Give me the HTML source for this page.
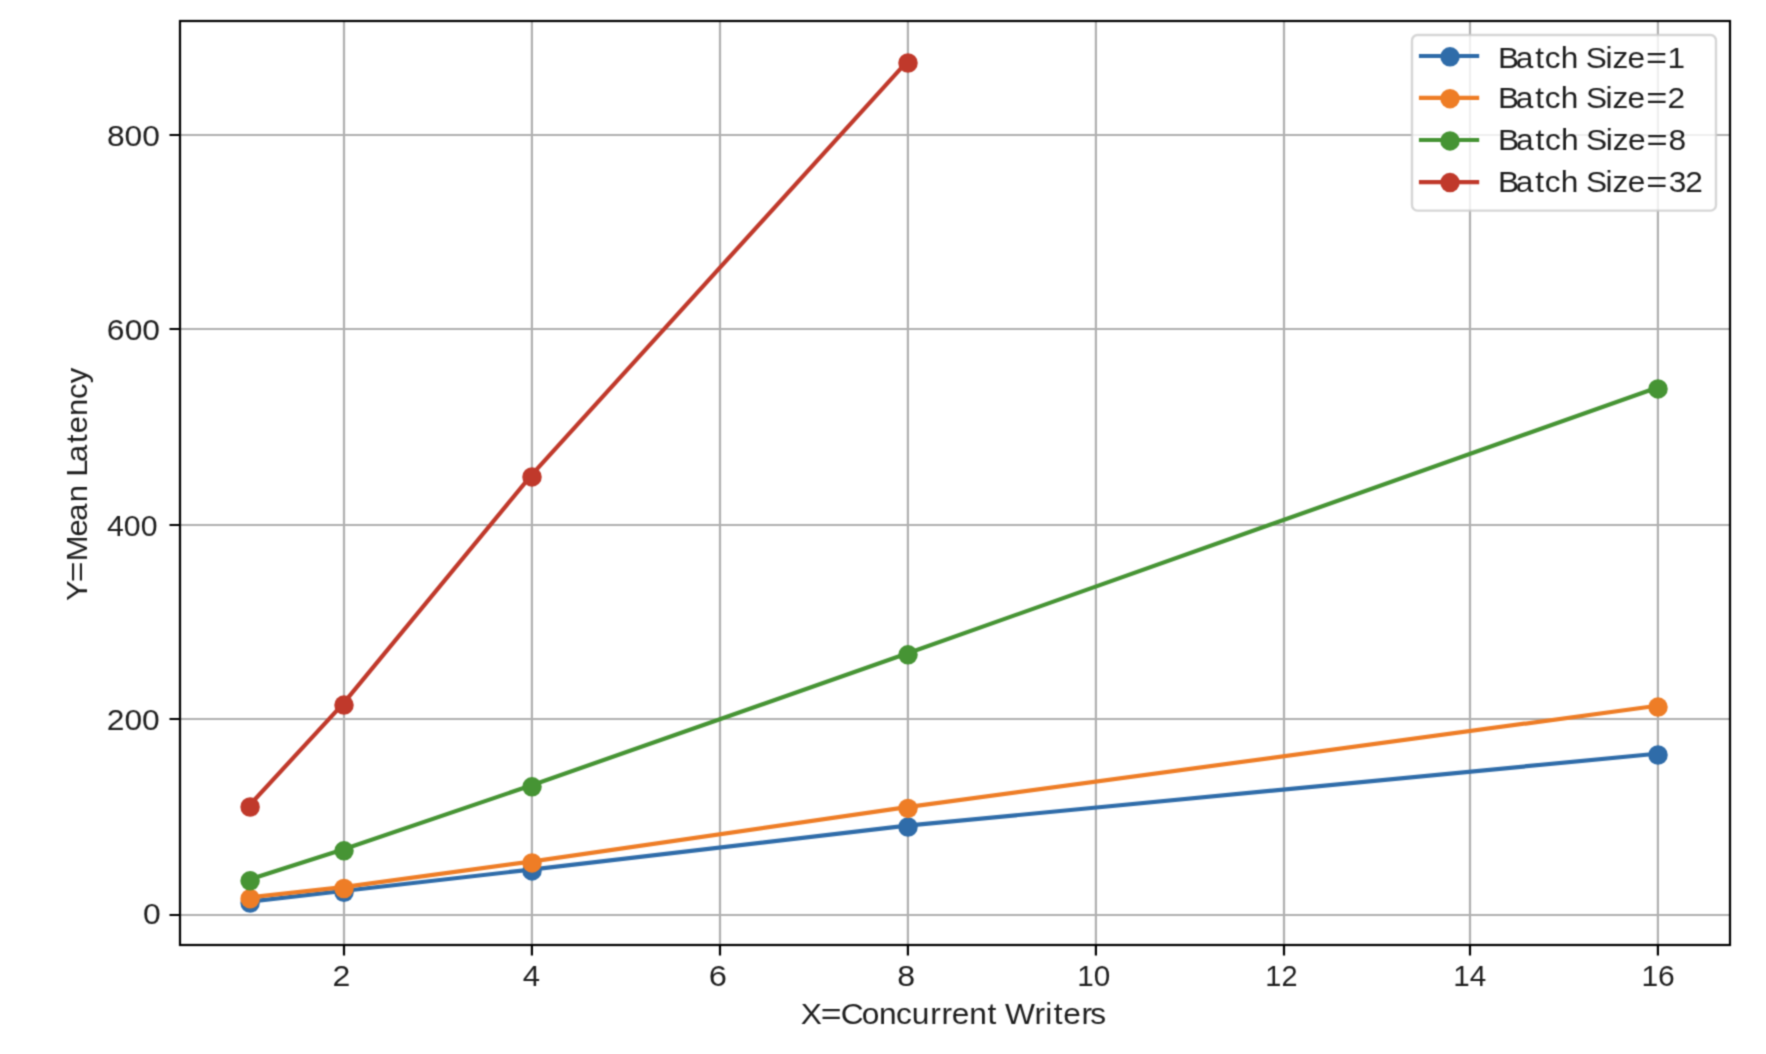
<!DOCTYPE html>
<html><head><meta charset="utf-8"><title>Mean Latency vs Concurrent Writers</title>
<style>html,body{margin:0;padding:0;background:#fff;overflow:hidden}svg{display:block}text{font-family:"Liberation Sans",sans-serif;font-size:29.4px;fill:#1e1e1e}</style></head><body>
<svg width="1766" height="1054" viewBox="0 0 1766 1054">
<defs><filter id="soft" x="0" y="0" width="1766" height="1054" filterUnits="userSpaceOnUse" color-interpolation-filters="sRGB"><feConvolveMatrix order="3" kernelMatrix="0.04000 0.12000 0.04000 0.12000 0.36000 0.12000 0.04000 0.12000 0.04000" divisor="1" edgeMode="duplicate" preserveAlpha="true"/></filter></defs>
<g filter="url(#soft)">
<rect width="1766" height="1054" fill="#fff"/>
<path d="M344 21 V945 M531.9 21 V945 M720 21 V945 M907.9 21 V945 M1095.9 21 V945 M1284 21 V945 M1470 21 V945 M1657.9 21 V945 M180 915 H1730 M180 719 H1730 M180 525 H1730 M180 329 H1730 M180 135 H1730" stroke="#b0b0b0" stroke-width="2.2" fill="none"/>
<g fill="#2F6CA9" stroke="none"><path d="M249.1 901.7 L343 891 L531 869.6 L907 825.7 L1657 753.7" fill="none" stroke="#2F6CA9" stroke-width="4.2" stroke-linejoin="round" stroke-linecap="square"/>
<circle cx="250.1" cy="903" r="9.75"/><circle cx="344" cy="892.3" r="9.75"/><circle cx="532" cy="870.9" r="9.75"/><circle cx="908" cy="827" r="9.75"/><circle cx="1658" cy="755" r="9.75"/></g>
<g fill="#EE7D26" stroke="none"><path d="M249.1 897.4 L343 887.2 L531 861.6 L907 807.1 L1657 705.8" fill="none" stroke="#EE7D26" stroke-width="4.2" stroke-linejoin="round" stroke-linecap="square"/>
<circle cx="250.1" cy="898.7" r="9.75"/><circle cx="344" cy="888.5" r="9.75"/><circle cx="532" cy="862.9" r="9.75"/><circle cx="908" cy="808.4" r="9.75"/><circle cx="1658" cy="707.1" r="9.75"/></g>
<g fill="#469434" stroke="none"><path d="M249.1 879.5 L343 849.5 L531 785.5 L907 653.5 L1657 387.6" fill="none" stroke="#469434" stroke-width="4.2" stroke-linejoin="round" stroke-linecap="square"/>
<circle cx="250.1" cy="880.8" r="9.75"/><circle cx="344" cy="850.8" r="9.75"/><circle cx="532" cy="786.8" r="9.75"/><circle cx="908" cy="654.8" r="9.75"/><circle cx="1658" cy="388.9" r="9.75"/></g>
<g fill="#C0392B" stroke="none"><path d="M249.1 805.7 L343 703.8 L531 475.6 L907 61.7" fill="none" stroke="#C0392B" stroke-width="4.2" stroke-linejoin="round" stroke-linecap="square"/>
<circle cx="250.1" cy="807" r="9.75"/><circle cx="344" cy="705.1" r="9.75"/><circle cx="532" cy="476.9" r="9.75"/><circle cx="908" cy="63" r="9.75"/></g>
<path d="M344 945 v10.5 M531.9 945 v10.5 M720 945 v10.5 M907.9 945 v10.5 M1095.9 945 v10.5 M1284 945 v10.5 M1470 945 v10.5 M1657.9 945 v10.5 M180 915 h-10.5 M180 719 h-10.5 M180 525 h-10.5 M180 329 h-10.5 M180 135 h-10.5" stroke="#000" stroke-width="2.2" fill="none"/>
<rect x="180" y="21" width="1550" height="924" fill="none" stroke="#000" stroke-width="2.2"/>
<text transform="matrix(1.0809 0 0 1 0 145.92)" x="98.91 115.3 131.62">800</text>
<text transform="matrix(1.0816 0 0 1 0 340.02)" x="98.82 115.29 131.52">600</text>
<text transform="matrix(1.029 0 0 1 0 535.92)" x="103.99 120.33 136.69">400</text>
<text transform="matrix(1.0813 0 0 1 0 730.02)" x="98.68 115.1 131.38">200</text>
<text transform="matrix(1.0851 0 0 1 0 924.02)" x="131.74">0</text>
<text transform="matrix(1.0901 0 0 1 0 986.11)" x="305.11">2</text>
<text transform="matrix(1.0597 0 0 1 0 985.96)" x="493.41">4</text>
<text transform="matrix(1.1131 0 0 1 0 985.82)" x="636.82">6</text>
<text transform="matrix(1.0946 0 0 1 0 985.92)" x="819.61">8</text>
<text transform="matrix(1.0098 0 0 1 0 986.07)" x="1066.83 1083.18">10</text>
<text transform="matrix(0.9833 0 0 1 0 986.11)" x="1286.87 1303.22">12</text>
<text transform="matrix(1.0101 0 0 1 0 985.96)" x="1438.61 1454.96">14</text>
<text transform="matrix(1.0216 0 0 1 0 986.07)" x="1606.73 1623.08">16</text>
<text transform="matrix(1.0793 0 0 1 0 1023.9)" x="741.97 760.53 779.08 798.48 814.49 830.11 844.73 861.88 872.42 881.92 897.93 915.04 924.21 931.16 958.52 968.57 976.24 985.19 1002.01 1010.2">X<tspan x="760.53" textLength="19.29" lengthAdjust="spacingAndGlyphs">=</tspan>Concurrent Writers</text>
<text transform="translate(87 600.4) rotate(-90) scale(1.0532 1)" x="-0.65 17.2 37.13 60.63 75.66 93.09 109.61 117.49 131.31 149.53 158.78 175.16 191.13 206.12">Y<tspan x="17.2" textLength="19.74" lengthAdjust="spacingAndGlyphs">=</tspan>Mean Latency</text>
<rect x="1412" y="35" width="304" height="175.6" rx="5.5" ry="5.5" fill="#fff" fill-opacity="0.8" stroke="#ccc" stroke-opacity="0.8" stroke-width="2.4"/>
<path d="M1418.9 56 H1479.2" stroke="#2F6CA9" stroke-width="4.2" fill="none"/><circle cx="1450" cy="56.85" r="9.75" fill="#2F6CA9"/>
<text transform="matrix(1.0739 0 0 1 0 68.3)" x="1394.95 1411.48 1429.62 1438.38 1453.32 1469.81 1476.65 1494.95 1501.46 1515.41 1532.67 1552.66">Batch Size<tspan x="1532.67" textLength="19.62" lengthAdjust="spacingAndGlyphs">=</tspan>1</text>
<path d="M1418.9 97.9 H1479.2" stroke="#EE7D26" stroke-width="4.2" fill="none"/><circle cx="1450" cy="98.7" r="9.75" fill="#EE7D26"/>
<text transform="matrix(1.0742 0 0 1 0 108)" x="1394.6 1411.15 1429.3 1438.07 1453.03 1469.53 1476.38 1494.7 1501.21 1515.18 1532.45 1552.31">Batch Size<tspan x="1532.45" textLength="19.64" lengthAdjust="spacingAndGlyphs">=</tspan>2</text>
<path d="M1418.9 140 H1479.2" stroke="#469434" stroke-width="4.2" fill="none"/><circle cx="1450" cy="140.9" r="9.75" fill="#469434"/>
<text transform="matrix(1.0806 0 0 1 0 150.1)" x="1386.37 1402.84 1420.94 1429.67 1444.57 1461.02 1467.82 1486.1 1492.57 1506.49 1523.73 1544.08">Batch Size<tspan x="1523.73" textLength="19.56" lengthAdjust="spacingAndGlyphs">=</tspan>8</text>
<path d="M1418.9 182.1 H1479.2" stroke="#C0392B" stroke-width="4.2" fill="none"/><circle cx="1450" cy="182.6" r="9.75" fill="#C0392B"/>
<text transform="matrix(1.076 0 0 1 0 191.9)" x="1392.26 1408.78 1426.91 1435.67 1450.61 1467.09 1473.92 1492.22 1498.72 1512.67 1529.93 1550.79 1566.32">Batch Size<tspan x="1529.93" textLength="19.61" lengthAdjust="spacingAndGlyphs">=</tspan>32</text>
</g></svg></body></html>
